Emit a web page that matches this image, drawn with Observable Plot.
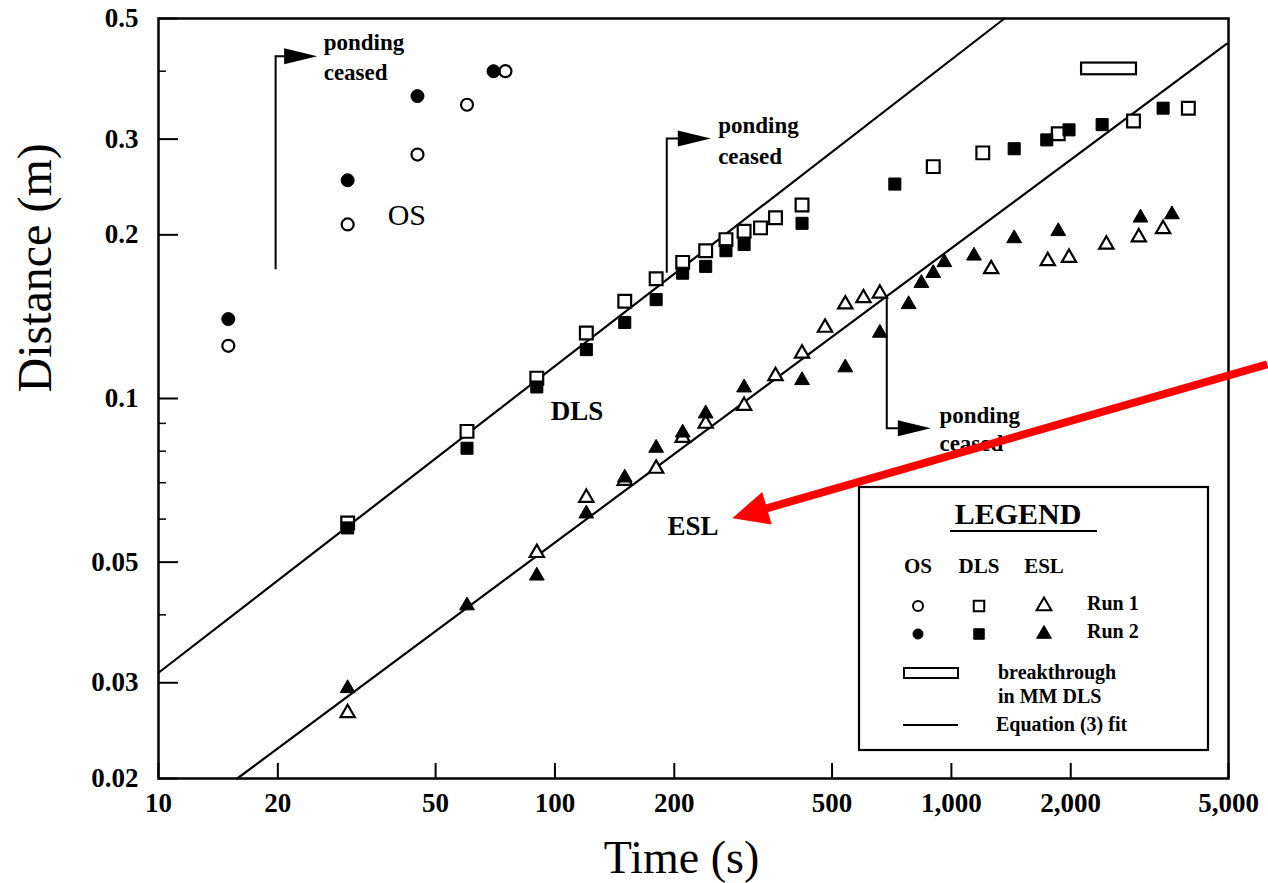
<!DOCTYPE html>
<html><head><meta charset="utf-8">
<script src="https://cdn.jsdelivr.net/npm/d3@7"></script>
<script src="https://cdn.jsdelivr.net/npm/@observablehq/plot@0.6"></script>
<style>body{margin:0;background:#fff;} svg{display:block}</style>
</head><body><div id="chart"></div>
<script>
// ---- tick values ----
const xTicks = [10, 20, 50, 100, 200, 500, 1000, 2000, 5000];
const yTicks = [0.02, 0.03, 0.05, 0.1, 0.2, 0.3, 0.5];
const yMinorTicks = [0.04, 0.06, 0.07, 0.08, 0.09, 0.4];

// ---- data: [time (s), distance (m)] ----
const osRun1 = [[15,0.125],[30,0.209],[45,0.281],[60,0.347],[75,0.40]];
const osRun2 = [[15,0.140],[30,0.252],[45,0.36],[70,0.40]];
const dlsRun1 = [[30,0.059],[60,0.087],[90,0.109],[120,0.132],[150,0.151],[180,0.166],[210,0.178],[240,0.187],[270,0.196],[300,0.203],[330,0.206],[360,0.215],[420,0.227],[900,0.267],[1200,0.283],[1860,0.307],[2880,0.324],[3960,0.342]];
const dlsRun2 = [[30,0.0578],[60,0.081],[90,0.105],[120,0.123],[150,0.138],[180,0.152],[210,0.170],[240,0.175],[270,0.187],[300,0.192],[420,0.210],[720,0.248],[1440,0.288],[1740,0.299],[1980,0.312],[2400,0.319],[3420,0.342]];
const eslRun1 = [[30,0.0264],[90,0.052],[120,0.0657],[150,0.0706],[180,0.0743],[210,0.0847],[240,0.0899],[300,0.097],[360,0.110],[420,0.121],[480,0.135],[540,0.149],[600,0.153],[660,0.156],[1260,0.173],[1750,0.179],[1980,0.1815],[2460,0.192],[2970,0.198],[3420,0.205]];
const eslRun2 = [[30,0.0293],[60,0.0416],[90,0.0472],[120,0.0614],[150,0.0715],[180,0.0811],[210,0.0865],[240,0.0938],[300,0.1047],[420,0.108],[540,0.114],[660,0.132],[780,0.149],[840,0.163],[900,0.170],[960,0.178],[1140,0.183],[1440,0.197],[1860,0.203],[3000,0.215],[3600,0.218]];

// Equation (3) fit lines (end points)
const dlsFit = [[10,0.0313],[1361,0.5]];
const eslFit = [[15.8,0.02],[4945,0.449]];

// breakthrough in MM DLS
const breakthrough = [{t1: 2130, t2: 2930, d1: 0.394, d2: 0.414}];

// series labels
const osLabel = [{t: 42.3, d: 0.217, label: "OS"}];
const boldLabels = [
  {t: 113.6, d: 0.0949, label: "DLS"},
  {t: 223, d: 0.0583, label: "ESL"}
];

// "ponding ceased" brackets
const pondingBrackets = [
  {t: 19.8, dFrom: 0.1725, dArrow: 0.425, tipT: 25.2},
  {t: 192, dFrom: 0.170, dArrow: 0.300, tipT: 248},
  {t: 689, dFrom: 0.1545, dArrow: 0.088, tipT: 890}
];
const pondingLabels = [
  {t: 26.1, d: 0.451, label: "ponding"}, {t: 26.1, d: 0.397, label: "ceased"},
  {t: 258, d: 0.317, label: "ponding"}, {t: 258, d: 0.279, label: "ceased"},
  {t: 933, d: 0.0929, label: "ponding"}, {t: 933, d: 0.0826, label: "ceased"}
];

// red pointer arrow (tail -> tip)
const redArrow = {tailT: 6282, tailD: 0.1153, tipT: 281, tipD: 0.0601};

const pts = (arr) => arr.map(([t, d]) => ({t, d}));

const W = 1268, H = 883;
const M = {top: 18, right: 40, bottom: 105, left: 158};
const plotW = W - M.left - M.right, plotH = H - M.top - M.bottom;
const serif = "Liberation Serif";

function annotations(index, scales) {
  const X = scales.x, Y = scales.y;
  const g = d3.create("svg:g");
  for (const b of pondingBrackets) {
    const x0 = X(b.t), y0 = Y(b.dFrom), y1 = Y(b.dArrow), xt = X(b.tipT);
    g.append("path").attr("d", `M${x0},${y0}V${y1}H${xt - 25}`)
      .attr("fill", "none").attr("stroke", "black").attr("stroke-width", 2);
    g.append("path").attr("d", `M${xt},${y1}L${xt - 33},${y1 - 8}L${xt - 33},${y1 + 8}Z`).attr("fill", "black");
  }
  // red arrow
  const tx = X(redArrow.tailT), ty = Y(redArrow.tailD), px = X(redArrow.tipT), py = Y(redArrow.tipD);
  const len = Math.hypot(px - tx, py - ty), ux = (px - tx) / len, uy = (py - ty) / len;
  const hl = 36, hw = 17;
  const bx = px - ux * hl, by = py - uy * hl;
  g.append("line").attr("x1", tx).attr("y1", ty).attr("x2", bx + ux * 4).attr("y2", by + uy * 4)
    .attr("stroke", "#ff0000").attr("stroke-width", 8);
  g.append("path").attr("d", `M${px},${py}L${bx - uy * hw},${by + ux * hw}L${bx + uy * hw},${by - ux * hw}Z`).attr("fill", "#ff0000");
  return g.node();
}

function legend() {
  const g = d3.create("svg:g").attr("font-family", serif).attr("font-weight", "bold").attr("fill", "black")
    .attr("text-anchor", "start");
  g.append("rect").attr("x", 859).attr("y", 487).attr("width", 349).attr("height", 263)
    .attr("fill", "white").attr("stroke", "black").attr("stroke-width", 2.2);
  g.append("text").attr("x", 1018).attr("y", 517).attr("text-anchor", "middle").attr("dominant-baseline", "middle")
    .attr("font-size", 30).text("LEGEND");
  g.append("line").attr("x1", 950).attr("x2", 1097).attr("y1", 531).attr("y2", 531).attr("stroke", "black").attr("stroke-width", 2);
  const cols = [{x: 918, label: "OS", sym: d3.symbolCircle, size: Math.PI * 25},
                {x: 979, label: "DLS", sym: d3.symbolSquare, size: 110},
                {x: 1044, label: "ESL", sym: d3.symbolTriangle, size: 95}];
  for (const c of cols) {
    g.append("text").attr("x", c.x).attr("y", 568).attr("text-anchor", "middle").attr("dominant-baseline", "middle")
      .attr("font-size", 21).text(c.label);
    g.append("path").attr("d", d3.symbol(c.sym, c.size)()).attr("transform", `translate(${c.x},606)`)
      .attr("fill", "white").attr("stroke", "black").attr("stroke-width", 2);
    g.append("path").attr("d", d3.symbol(c.sym, c.size)()).attr("transform", `translate(${c.x},634)`)
      .attr("fill", "black").attr("stroke", "black").attr("stroke-width", 1);
  }
  const row = (x, y, t) => g.append("text").attr("x", x).attr("y", y).attr("text-anchor", "start")
    .attr("dominant-baseline", "middle").attr("font-size", 20).text(t);
  row(1087, 605, "Run 1");
  row(1087, 633, "Run 2");
  g.append("rect").attr("x", 904).attr("y", 668).attr("width", 54).attr("height", 10)
    .attr("fill", "white").attr("stroke", "black").attr("stroke-width", 2);
  row(998, 674, "breakthrough");
  row(998, 698, "in MM DLS");
  g.append("line").attr("x1", 903).attr("x2", 958).attr("y1", 725).attr("y2", 725).attr("stroke", "black").attr("stroke-width", 2);
  row(996, 726, "Equation (3) fit");
  return g.node();
}

const chart = Plot.plot({
  width: W, height: H,
  marginTop: M.top, marginRight: M.right, marginBottom: M.bottom, marginLeft: M.left,
  x: {type: "log", domain: [10, 5000], axis: null},
  y: {type: "log", domain: [0.02, 0.5], axis: null},
  style: {fontFamily: serif, background: "white", color: "black"},
  marks: [
    Plot.frame({stroke: "black", strokeWidth: 2.5}),
    Plot.tickX(xTicks, {x: d => d, insetTop: plotH - 15, stroke: "black", strokeWidth: 2}),
    Plot.tickY(yTicks, {y: d => d, insetRight: plotW - 20, stroke: "black", strokeWidth: 2}),
    Plot.tickY(yMinorTicks, {y: d => d, insetRight: plotW - 8, stroke: "black", strokeWidth: 1.5}),
    Plot.text(xTicks, {x: d => d, frameAnchor: "bottom", dy: 25, lineAnchor: "middle", text: d => d3.format(",")(d),
      fontSize: 27, fontWeight: "bold", fontFamily: serif, fill: "black"}),
    Plot.text(yTicks, {y: d => d, frameAnchor: "left", dx: -20, textAnchor: "end", lineAnchor: "middle", text: d => String(d),
      fontSize: 27, fontWeight: "bold", fontFamily: serif, fill: "black"}),
    Plot.line(pts(dlsFit), {x: "t", y: "d", stroke: "black", strokeWidth: 2.2}),
    Plot.line(pts(eslFit), {x: "t", y: "d", stroke: "black", strokeWidth: 2.2}),
    Plot.rect(breakthrough, {x1: "t1", x2: "t2", y1: "d1", y2: "d2", fill: "white", stroke: "black", strokeWidth: 2.2}),
    Plot.dot(pts(osRun1), {x: "t", y: "d", symbol: "circle", r: 6, fill: "white", stroke: "black", strokeWidth: 2.2}),
    Plot.dot(pts(dlsRun1), {x: "t", y: "d", symbol: "square", r: 7.2, fill: "white", stroke: "black", strokeWidth: 2.2}),
    Plot.dot(pts(eslRun1), {x: "t", y: "d", symbol: "triangle", r: 5.3, fill: "white", stroke: "black", strokeWidth: 2.2}),
    Plot.dot(pts(osRun2), {x: "t", y: "d", symbol: "circle", r: 6.5, fill: "black", stroke: "black", strokeWidth: 1}),
    Plot.dot(pts(dlsRun2), {x: "t", y: "d", symbol: "square", r: 6.8, fill: "black", stroke: "black", strokeWidth: 1}),
    Plot.dot(pts(eslRun2), {x: "t", y: "d", symbol: "triangle", r: 5.5, fill: "black", stroke: "black", strokeWidth: 1}),
    Plot.text(osLabel, {x: "t", y: "d", text: "label", fontSize: 30, fontFamily: serif, fill: "black"}),
    Plot.text(boldLabels, {x: "t", y: "d", text: "label", fontSize: 27, fontWeight: "bold", fontFamily: serif, fill: "black"}),
    Plot.text(pondingLabels, {x: "t", y: "d", text: "label", textAnchor: "start", fontSize: 23, fontWeight: "bold", fontFamily: serif, fill: "black"}),
    annotations,
    legend,
    Plot.text(["Time (s)"], {frameAnchor: "bottom", lineAnchor: "middle", dy: 80, dx: -12, fontSize: 46,
      fontFamily: serif, fill: "black"}),
    Plot.text(["Distance (m)"], {frameAnchor: "left", lineAnchor: "middle", rotate: -90, dx: -123, dy: -6, fontSize: 48,
      fontFamily: serif, fill: "black"})
  ]
});
document.getElementById("chart").appendChild(chart);
</script>
</body></html>
